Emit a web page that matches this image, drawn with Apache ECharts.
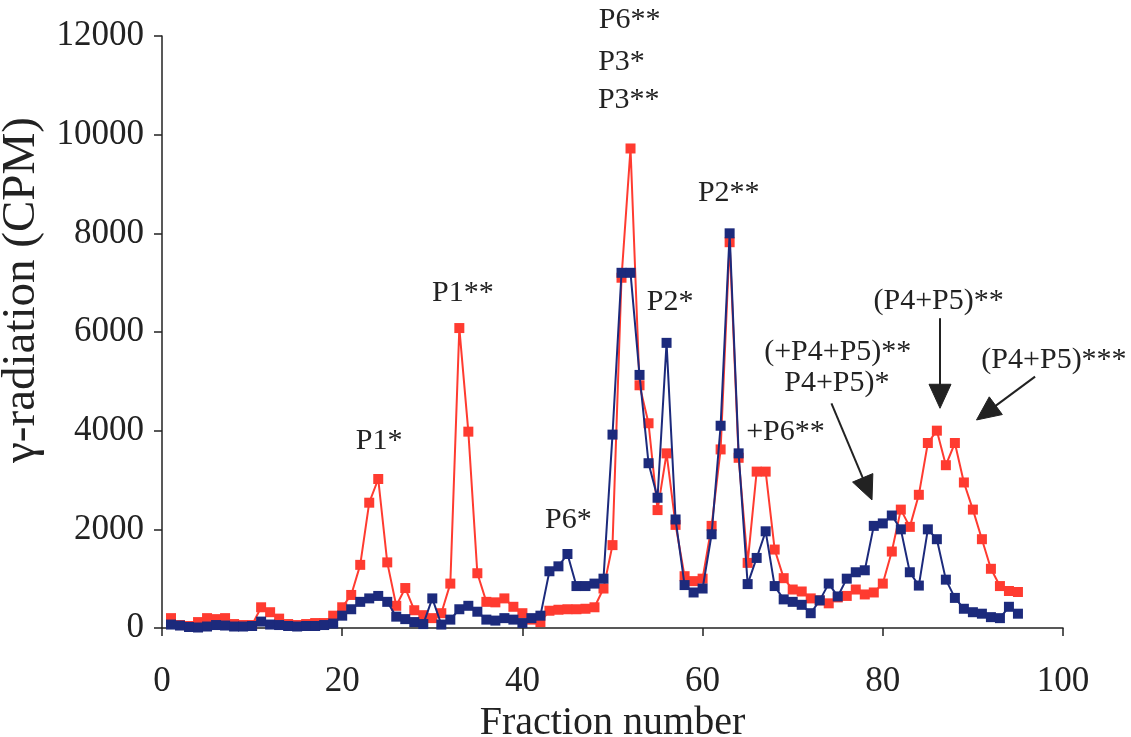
<!DOCTYPE html>
<html>
<head>
<meta charset="utf-8">
<script src="https://cdn.jsdelivr.net/npm/echarts@6/dist/echarts.min.js"></script>
<style>html,body{margin:0;padding:0;background:#fff}#c{width:1131px;height:737px}</style>
</head>
<body>
<div id="c"></div>
<script>
// ---- data ----
const fractions = [1,2,3,4,5,6,7,8,9,10,11,12,13,14,15,16,17,18,19,20,
  21,22,23,24,25,26,27,28,29,30,31,32,33,34,35,36,37,38,39,40,
  41,42,43,44,45,46,47,48,49,50,51,52,53,54,55,56,57,58,59,60,
  61,62,63,64,65,66,67,68,69,70,71,72,73,74,75,76,77,78,79,80,
  81,82,83,84,85,86,87,88,89,90,91,92,93,94,95];
const redCPM = [200,60,40,120,200,180,200,80,60,60,
  420,320,190,80,60,80,100,100,250,420,
  670,1280,2540,3020,1330,450,810,360,260,200,
  300,900,6080,3980,1110,530,520,600,430,300,
  170,120,350,370,380,380,390,420,800,1680,
  7100,9720,4920,4150,2390,3540,2090,1050,950,1000,
  2070,3620,7820,3450,1320,3170,3170,1590,1010,780,
  740,600,560,500,620,650,780,680,720,900,
  1550,2400,2050,2700,3750,4000,3300,3750,2950,2400,
  1800,1200,850,750,730];
const blueCPM = [70,50,20,10,30,60,50,30,30,40,
  130,70,60,40,30,40,40,60,90,250,
  380,530,600,650,530,230,180,120,80,600,
  70,170,380,450,330,170,150,200,170,100,
  200,250,1150,1250,1500,850,850,900,1000,3920,
  7200,7200,5130,3340,2640,5780,2200,870,720,800,
  1900,4100,8000,3540,890,1420,1960,850,580,530,
  470,300,560,900,640,1000,1130,1170,2070,2120,
  2280,2000,1130,860,2000,1800,980,610,390,320,
  290,220,200,430,290];
const xTicks = [0, 20, 40, 60, 80, 100];
const yTicks = [0, 2000, 4000, 6000, 8000, 10000, 12000];
const xTitle = 'Fraction number';
const yTitle = 'γ-radiation (CPM)';

// annotation texts, placed in data space (fraction, CPM)
const annoTexts = ['P1*', 'P1**', 'P6*', 'P6**', 'P3*', 'P3**', 'P2**', 'P2*', '+P6**',
  '(+P4+P5)**', 'P4+P5)*', '(P4+P5)**', '(P4+P5)***'];
const annoX = [24.1, 33.4, 45.1, 51.9, 51.0, 51.8, 62.9, 56.4, 69.2, 75.0, 74.9, 86.2, 99.0];
const annoY = [3790, 6790, 2190, 12330, 11470, 10700, 8820, 6610, 3970, 5600, 4970, 6630, 5430];
// arrows: start and tip in data space
const arrowFrom = [[74.3, 4555], [86.35, 6280], [96.9, 5095]];
const arrowTo = [[78.8, 2595], [86.35, 4454], [90.4, 4217]];

const FONT = 'Liberation Serif';
const TXT = '#222';
const RED = '#ff3b30';
const BLUE = '#1c2a7c';

const redData = fractions.map((f, i) => [f, redCPM[i]]);
const blueData = fractions.map((f, i) => [f, blueCPM[i]]);

const chart = echarts.init(document.getElementById('c'), null, {renderer: 'canvas'});
chart.setOption({
  animation: false,
  backgroundColor: '#fff',
  grid: {left: 162, right: 68, top: 36, bottom: 109, containLabel: false, outerBoundsMode: 'none'},
  xAxis: {
    type: 'value', min: xTicks[0], max: xTicks[xTicks.length - 1], interval: xTicks[1] - xTicks[0],
    name: xTitle, nameLocation: 'middle', nameGap: 70,
    nameTextStyle: {fontFamily: FONT, fontSize: 40, color: TXT},
    axisLine: {lineStyle: {color: '#222', width: 1.5}},
    axisTick: {inside: false, length: 8, lineStyle: {color: '#222', width: 1.5}},
    axisLabel: {fontFamily: FONT, fontSize: 35, color: TXT, margin: 36, formatter: v => String(v)},
    splitLine: {show: false}
  },
  yAxis: {
    type: 'value', min: yTicks[0], max: yTicks[yTicks.length - 1], interval: yTicks[1] - yTicks[0],
    name: yTitle, nameLocation: 'middle', nameGap: 104, nameRotate: 90,
    nameTextStyle: {fontFamily: FONT, fontSize: 47, color: TXT, padding: [0, 0, 0, 84]},
    axisLine: {show: true, lineStyle: {color: '#222', width: 1.5}},
    axisTick: {show: true, inside: false, length: 8, lineStyle: {color: '#222', width: 1.5}},
    axisLabel: {fontFamily: FONT, fontSize: 35, color: TXT, margin: 18, formatter: v => String(v)},
    splitLine: {show: false}
  },
  series: [
    {
      name: 'red', type: 'line', data: redData, clip: false,
      symbol: 'rect', symbolSize: 10, showAllSymbol: true,
      lineStyle: {color: RED, width: 2}, itemStyle: {color: RED}, z: 2
    },
    {
      name: 'blue', type: 'line', data: blueData, clip: false,
      symbol: 'rect', symbolSize: 10, showAllSymbol: true,
      lineStyle: {color: BLUE, width: 2}, itemStyle: {color: BLUE}, z: 3
    }
  ]
});

// annotations through the chart's own scales
const graphics = [];
annoTexts.forEach((t, i) => {
  const p = chart.convertToPixel({gridIndex: 0}, [annoX[i], annoY[i]]);
  graphics.push({
    type: 'text', x: p[0], y: p[1], z: 10,
    style: {text: t, fontFamily: FONT, fontSize: 30, fill: TXT, align: 'center', verticalAlign: 'middle'}
  });
});
arrowFrom.forEach((a, i) => {
  const p0 = chart.convertToPixel({gridIndex: 0}, a);
  const p1 = chart.convertToPixel({gridIndex: 0}, arrowTo[i]);
  const dx = p1[0] - p0[0], dy = p1[1] - p0[1];
  const len = Math.hypot(dx, dy);
  const ux = dx / len, uy = dy / len;
  const L = 24, W = 11;
  const bx = p1[0] - ux * L, by = p1[1] - uy * L;
  graphics.push({
    type: 'polyline', z: 10,
    shape: {points: [p0, [bx + ux * 2, by + uy * 2]]},
    style: {stroke: '#222', lineWidth: 2, fill: null}
  });
  graphics.push({
    type: 'polygon', z: 10,
    shape: {points: [p1, [bx - uy * W, by + ux * W], [bx + uy * W, by - ux * W]]},
    style: {fill: '#222', stroke: '#222', lineWidth: 1}
  });
});
chart.setOption({graphic: graphics});
</script>
</body>
</html>
